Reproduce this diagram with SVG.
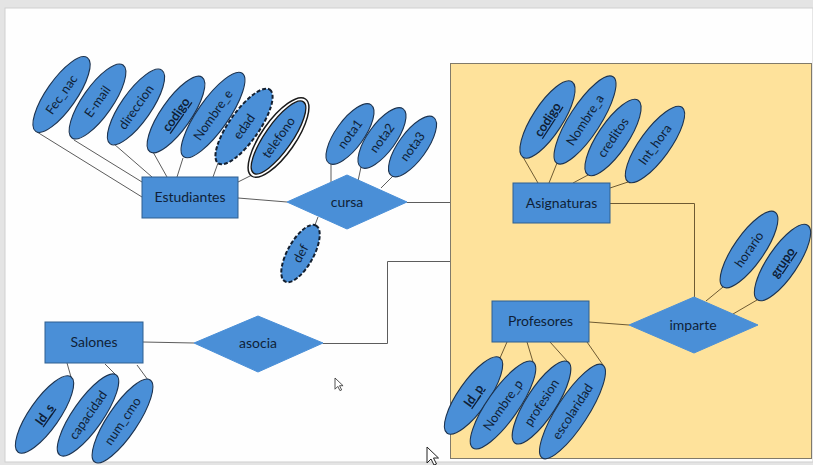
<svg xmlns="http://www.w3.org/2000/svg" width="813" height="465" viewBox="0 0 813 465">
<style>
.ent rect{fill:#4a8fd7;stroke:#2f5f8f;stroke-width:1}
.rel polygon{fill:#4a8fd7;stroke:#4a8fd7;stroke-width:1}
.lbl{font-family:Lato,"Liberation Sans",sans-serif;font-size:14px;fill:#0f1f38;text-anchor:middle}
.att ellipse{fill:#4a8fd7;stroke:#1c3350;stroke-width:1.1}
.att text{font-family:Lato,"Liberation Sans",sans-serif;font-size:12.8px;fill:#0f1f38;text-anchor:middle}
.att ellipse.dash{stroke:#142030;stroke-width:2;stroke-dasharray:4 2}
.key{font-weight:bold;text-decoration:underline}
.conn line,.conn polyline{stroke:#5c5c5c;stroke-width:1;fill:none}
.conn .in{stroke:#6e5a32}
</style>
<rect x="0" y="0" width="813" height="465" fill="#e4e4e4"/>
<rect x="5" y="8" width="808" height="454" fill="#fefefe" stroke="#cfcfcf" stroke-width="1"/>
<rect id="box" x="450.5" y="63.5" width="361" height="395" fill="#fee29b" stroke="#807a6a" stroke-width="1"/>

<g id="connectors" class="conn">
<line x1="37" y1="132" x2="142" y2="197"/>
<line x1="74" y1="140" x2="142" y2="182"/>
<line x1="114" y1="144" x2="152" y2="177"/>
<line x1="153" y1="152" x2="167" y2="177"/>
<line x1="183" y1="158" x2="177" y2="177"/>
<line x1="218" y1="163" x2="213" y2="177"/>
<line x1="252" y1="175" x2="238" y2="182"/>
<line x1="238" y1="198" x2="287" y2="202"/>
<line x1="331" y1="163" x2="331" y2="182"/>
<line x1="361" y1="167" x2="358" y2="181"/>
<line x1="393" y1="176" x2="381" y2="188"/>
<line x1="315" y1="225" x2="318" y2="217"/>
<line x1="407" y1="202.5" x2="450" y2="202.5"/>
<line x1="143" y1="342" x2="194" y2="343"/>
<polyline points="323,343.5 387.5,343.5 387.5,261.5 450,261.5"/>
<line x1="71" y1="377" x2="67" y2="363"/>
<line x1="116" y1="375" x2="105" y2="364"/>
<line x1="148" y1="380" x2="137" y2="365"/>
<line class="in" x1="523" y1="157" x2="538" y2="183"/>
<line class="in" x1="557" y1="163" x2="549" y2="183"/>
<line class="in" x1="588" y1="175" x2="573" y2="183"/>
<line class="in" x1="628" y1="182" x2="610" y2="188"/>
<polyline class="in" points="610,203.5 694.5,203.5 694.5,297"/>
<line class="in" x1="589" y1="322" x2="629" y2="325"/>
<line class="in" x1="723" y1="287" x2="706" y2="301"/>
<line class="in" x1="757" y1="300" x2="733" y2="314"/>
<line class="in" x1="500" y1="358" x2="507" y2="342"/>
<line class="in" x1="533" y1="362" x2="527" y2="342"/>
<line class="in" x1="568" y1="362" x2="550" y2="342"/>
<line class="in" x1="603" y1="365" x2="587" y2="342"/>
</g>

<g id="estudiantes" class="ent"><rect x="142" y="177" width="96" height="41"/><text class="lbl" x="190" y="202">Estudiantes</text></g>
<g id="asignaturas" class="ent"><rect x="513" y="183" width="97" height="40"/><text class="lbl" x="561.5" y="208">Asignaturas</text></g>
<g id="profesores" class="ent"><rect x="492" y="301" width="97" height="41"/><text class="lbl" x="540.5" y="326">Profesores</text></g>
<g id="salones" class="ent"><rect x="45" y="322" width="98" height="41"/><text class="lbl" x="94" y="347">Salones</text></g>

<g id="cursa" class="rel"><polygon points="287,202 347,175 407,202 347,229"/><text class="lbl" x="347" y="207">cursa</text></g>
<g id="imparte" class="rel"><polygon points="629,325 694,297 758,325 694,353"/><text class="lbl" x="693" y="330">imparte</text></g>
<g id="asocia" class="rel"><polygon points="194,343 258,316 323,343 258,372"/><text class="lbl" x="258" y="348">asocia</text></g>

<g id="a-fec-nac" class="att" transform="translate(61.5,94.5) rotate(-55)"><ellipse rx="45" ry="15"/><text dy="4.5">Fec_nac</text></g>
<g id="a-email" class="att" transform="translate(97.5,101.5) rotate(-55)"><ellipse rx="44.5" ry="15"/><text dy="4.5">E-mail</text></g>
<g id="a-direccion" class="att" transform="translate(136,107) rotate(-55)"><ellipse rx="45" ry="15"/><text dy="4.5">direccion</text></g>
<g id="a-codigo-e" class="att" transform="translate(176,114.5) rotate(-55)"><ellipse rx="45.5" ry="15"/><text dy="4.5" class="key">codigo</text></g>
<g id="a-nombre-e" class="att" transform="translate(213,115) rotate(-55)"><ellipse rx="51" ry="15.5"/><text dy="4.5">Nombre_e</text></g>
<g id="a-edad" class="att" transform="translate(244,126.5) rotate(-55)"><ellipse class="dash" rx="45" ry="15"/><text dy="4.5">edad</text></g>
<g id="a-telefono" class="att" transform="translate(278.5,137.5) rotate(-55)"><ellipse rx="47" ry="17" style="fill:#ffffff;stroke:#1a1a1a;stroke-width:1.5"/><ellipse rx="43.5" ry="13.5" style="stroke:#1a1a1a;stroke-width:1.3"/><text dy="4.5">telefono</text></g>
<g id="a-nota1" class="att" transform="translate(350,134) rotate(-54)"><ellipse rx="36" ry="14"/><text dy="4.5">nota1</text></g>
<g id="a-nota2" class="att" transform="translate(382,138) rotate(-54)"><ellipse rx="36" ry="14"/><text dy="4.5">nota2</text></g>
<g id="a-nota3" class="att" transform="translate(412.5,146.5) rotate(-54)"><ellipse rx="36" ry="14"/><text dy="4.5">nota3</text></g>
<g id="a-def" class="att" transform="translate(300.5,253.5) rotate(-61)"><ellipse class="dash" rx="32" ry="13"/><text dy="4.5">def</text></g>

<g id="a-codigo-a" class="att" transform="translate(547.5,119.5) rotate(-57)"><ellipse rx="45" ry="15"/><text dy="4.5" class="key">codigo</text></g>
<g id="a-nombre-a" class="att" transform="translate(585,120) rotate(-57)"><ellipse rx="51.5" ry="15.5"/><text dy="4.5">Nombre_a</text></g>
<g id="a-creditos" class="att" transform="translate(613,137.5) rotate(-56)"><ellipse rx="45" ry="15"/><text dy="4.5">creditos</text></g>
<g id="a-int-hora" class="att" transform="translate(655,144.5) rotate(-54)"><ellipse rx="46" ry="15"/><text dy="4.5">Int_hora</text></g>
<g id="a-horario" class="att" transform="translate(749,249.5) rotate(-55)"><ellipse rx="45.5" ry="15"/><text dy="4.5">horario</text></g>
<g id="a-grupo" class="att" transform="translate(782.5,262.5) rotate(-56)"><ellipse rx="45" ry="15"/><text dy="4.5" class="key">grupo</text></g>
<g id="a-id-p" class="att" transform="translate(473.5,395.5) rotate(-55)"><ellipse rx="46" ry="15"/><text dy="4.5" class="key">Id_p</text></g>
<g id="a-nombre-p" class="att" transform="translate(503,405) rotate(-55)"><ellipse rx="52.5" ry="15.5"/><text dy="4.5">Nombre_p</text></g>
<g id="a-profesion" class="att" transform="translate(541.5,402.5) rotate(-57)"><ellipse rx="48.5" ry="15"/><text dy="4.5">profesion</text></g>
<g id="a-escolaridad" class="att" transform="translate(572.5,411.5) rotate(-57)"><ellipse rx="55.5" ry="15.5"/><text dy="4.5">escolaridad</text></g>
<g id="a-id-s" class="att" transform="translate(44.5,414.5) rotate(-55)"><ellipse rx="46" ry="15"/><text dy="4.5" class="key">Id_s</text></g>
<g id="a-capacidad" class="att" transform="translate(88,415) rotate(-55)"><ellipse rx="49" ry="15"/><text dy="4.5">capacidad</text></g>
<g id="a-num-cmo" class="att" transform="translate(122.5,421) rotate(-56)"><ellipse rx="49.5" ry="15"/><text dy="4.5">num_cmo</text></g>

<g id="cursor1" transform="translate(335,378) scale(0.7)"><polygon points="0,0 0,16 4,12 7,18 9.5,17 6.5,11 11.5,11" fill="#ffffff" stroke="#333" stroke-width="1.2"/></g>
<g id="cursor2" transform="translate(427,447)"><polygon points="0,0 0,16 4,12 7,18 9.5,17 6.5,11 11.5,11" fill="#ffffff" stroke="#222" stroke-width="1"/></g>
</svg>
